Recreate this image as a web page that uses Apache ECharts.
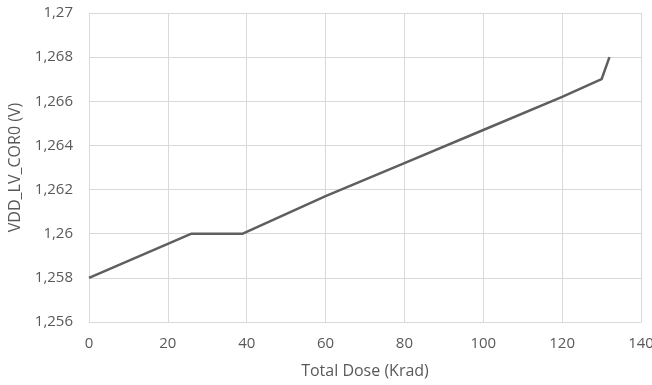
<!DOCTYPE html>
<html>
<head>
<meta charset="utf-8">
<script src="https://cdn.jsdelivr.net/npm/echarts@6/dist/echarts.min.js"></script>
<style>
  html, body { margin: 0; padding: 0; background: #fff; }
  #chart { width: 652px; height: 385px; }
</style>
</head>
<body>
<div id="chart"></div>
<script>
const doseValues = [0, 26, 39, 60, 80, 100, 120, 130, 132]
const voltValues = [1.258, 1.26, 1.26, 1.2617, 1.2632, 1.2647, 1.2662, 1.267, 1.268]

const xTicks = { min: 0, max: 140, interval: 20 }
const yTicks = { min: 1.256, max: 1.27, interval: 0.002 }

const textColor = '#595959'
const gridColor = '#d9d9d9'
const fontFamily = '"Open Sans", "Liberation Sans", sans-serif'

const chart = echarts.init(document.getElementById('chart'))

function commaDecimal(v) {
  return String(parseFloat(v.toFixed(3))).replace('.', ',')
}

chart.setOption({
  animation: false,
  grid: { left: 89, right: 11, top: 13, bottom: 63, outerBoundsMode: 'none' },
  xAxis: {
    type: 'value',
    min: xTicks.min,
    max: xTicks.max,
    interval: xTicks.interval,
    name: 'Total Dose (Krad)',
    nameLocation: 'middle',
    nameGap: 41,
    nameTextStyle: { color: textColor, fontSize: 16, fontFamily },
    axisLine: { show: true, lineStyle: { color: gridColor } },
    axisTick: { show: false },
    axisLabel: { color: textColor, fontSize: 15, fontFamily, margin: 14 },
    splitLine: { show: true, lineStyle: { color: gridColor } }
  },
  yAxis: {
    type: 'value',
    min: yTicks.min,
    max: yTicks.max,
    interval: yTicks.interval,
    name: 'VDD_LV_COR0 (V)',
    nameLocation: 'middle',
    nameGap: 59,
    nameTextStyle: { color: textColor, fontSize: 16, fontFamily },
    axisLine: { show: false },
    axisTick: { show: false },
    axisLabel: {
      color: textColor, fontSize: 15, fontFamily, margin: 16,
      formatter: commaDecimal
    },
    splitLine: { show: true, lineStyle: { color: gridColor } }
  },
  series: [{
    type: 'line',
    data: doseValues.map((d, i) => [d, voltValues[i]]),
    showSymbol: false,
    lineStyle: { color: '#5f5f5f', width: 2.5 },
    itemStyle: { color: '#5f5f5f' }
  }]
})
</script>
</body>
</html>
